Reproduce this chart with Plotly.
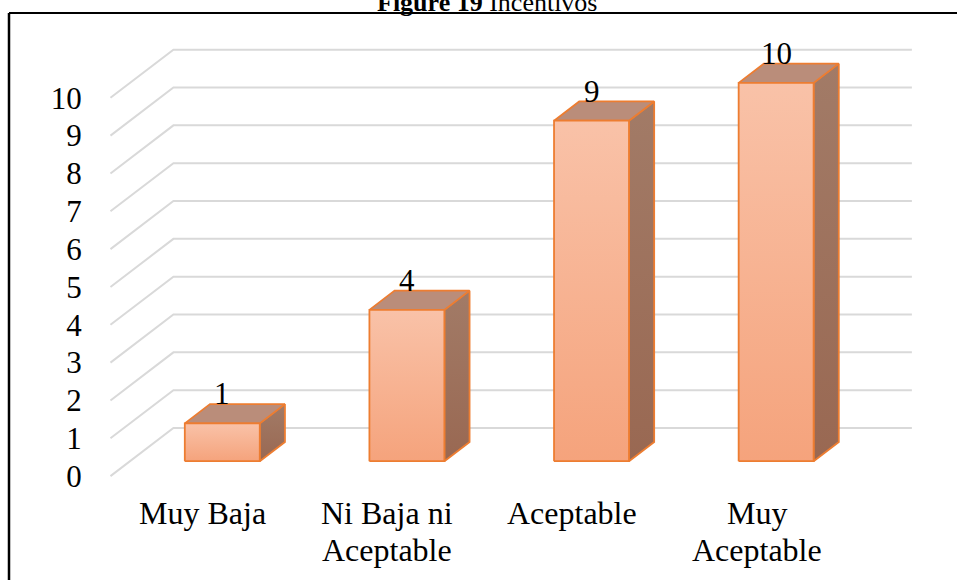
import plotly.graph_objects as go

# ---- data ----
categories = ["Muy Baja", "Ni Baja ni\nAceptable", "Aceptable", "Muy\nAceptable"]
values = [1, 4, 9, 10]
y_ticks = list(range(0, 11))
title_bold = "Figure 19"
title_rest = "Incentivos"

# ---- oblique 3-D projection (axis units) ----
DEPTH_DX = 0.341      # shift of a point moved from the front plane to the back wall (x units)
DEPTH_DY = 1.27       # same shift in value units
BAR_FRONT = 0.31      # depth of the bar front face (0 = front, 1 = back wall)
BAR_BACK = 0.71       # depth of the bar back face
BAR_HALF = 0.203      # half width of a bar
FLOOR_LEFT = -0.5
FLOOR_RIGHT = 3.5

X_RANGE = [-0.6, 3.95]
Y_RANGE = [-0.5, 11.5]
W, H = 957, 580
ML, MR, MT, MB = 92, 25, 41, 85
PW, PH = W - ML - MR, H - MT - MB

FONT = "Liberation Serif, Times New Roman, serif"
EDGE = "#ed7d31"
CAT_FIRST_LINE_PX = 513   # vertical centre of the first category-label line
CAT_LINE_STEP_PX = 37     # line spacing of wrapped category labels


def proj(x, y, d):
    return x + d * DEPTH_DX, y + d * DEPTH_DY


def px_to_paper(px, py):
    return (px - ML) / PW, (H - MB - py) / PH


fig = go.Figure()

# back wall gridlines with their slanted floor/side continuation
gx, gy = [], []
for v in y_ticks:
    a = proj(FLOOR_LEFT, v, 0)
    b = proj(FLOOR_LEFT, v, 1)
    c = proj(FLOOR_RIGHT, v, 1)
    gx += [a[0], b[0], c[0], None]
    gy += [a[1], b[1], c[1], None]
fig.add_trace(go.Scatter(x=gx, y=gy, mode="lines",
                         line=dict(color="#d9d9d9", width=2),
                         hoverinfo="skip", showlegend=False))


def face(pts, **kw):
    xs = [p[0] for p in pts] + [pts[0][0]]
    ys = [p[1] for p in pts] + [pts[0][1]]
    fig.add_trace(go.Scatter(x=xs, y=ys, mode="lines", fill="toself",
                             line=dict(color=EDGE, width=1.8),
                             hoverinfo="skip", showlegend=False, **kw))


for i, val in enumerate(values):
    x0, x1 = i - BAR_HALF, i + BAR_HALF
    # side face
    face([proj(x1, 0, BAR_FRONT), proj(x1, 0, BAR_BACK),
          proj(x1, val, BAR_BACK), proj(x1, val, BAR_FRONT)],
         fillgradient=dict(type="vertical",
                           colorscale=[[0, "#996852"], [1, "#a27b67"]]))
    # top face
    face([proj(x0, val, BAR_FRONT), proj(x1, val, BAR_FRONT),
          proj(x1, val, BAR_BACK), proj(x0, val, BAR_BACK)],
         fillcolor="#ba8d7a")
    # front face
    face([proj(x0, 0, BAR_FRONT), proj(x1, 0, BAR_FRONT),
          proj(x1, val, BAR_FRONT), proj(x0, val, BAR_FRONT)],
         fillgradient=dict(type="vertical",
                           colorscale=[[0, "#f5a37c"], [1, "#f9c2a8"]]))

annotations = []
# value labels above each column
for i, val in enumerate(values):
    lx, ly = proj(i, val, BAR_FRONT)
    annotations.append(dict(x=lx, y=ly, xref="x", yref="y", text=str(val),
                            showarrow=False, yanchor="bottom", yshift=10,
                            font=dict(family=FONT, size=31, color="black")))

# category labels on the front plane, one annotation per line
for i, cat in enumerate(categories):
    for k, line in enumerate(cat.split("\n")):
        _, py = px_to_paper(0, CAT_FIRST_LINE_PX + k * CAT_LINE_STEP_PX)
        annotations.append(dict(x=i, y=py, xref="x", yref="paper", text=line,
                                showarrow=False, xanchor="center", yanchor="middle",
                                font=dict(family=FONT, size=32, color="black")))

tx, ty = px_to_paper(487.5, 2)
annotations.append(dict(x=tx, y=ty, xref="paper", yref="paper",
                        text=f"<b>{title_bold}</b> {title_rest}",
                        showarrow=False, xanchor="center", yanchor="middle",
                        font=dict(family=FONT, size=26, color="black")))

# chart frame (left and top edges)
bx0, by0 = px_to_paper(9, 13)
bx1, by1 = px_to_paper(W + 5, H + 5)
shapes = [
    dict(type="line", xref="paper", yref="paper", x0=bx0, y0=by0, x1=bx0, y1=by1,
         line=dict(color="black", width=2.5)),
    dict(type="line", xref="paper", yref="paper", x0=bx0, y0=by0, x1=bx1, y1=by0,
         line=dict(color="black", width=2)),
]

fig.update_layout(
    width=W, height=H,
    margin=dict(l=ML, r=MR, t=MT, b=MB, pad=0, autoexpand=False),
    paper_bgcolor="white", plot_bgcolor="white",
    showlegend=False,
    annotations=annotations,
    shapes=shapes,
    xaxis=dict(range=X_RANGE, showticklabels=False, showgrid=False,
               zeroline=False, showline=False, ticks="", fixedrange=True,
               automargin=False),
    yaxis=dict(range=Y_RANGE, tickvals=y_ticks, ticktext=[str(t) for t in y_ticks],
               showgrid=False, zeroline=False, showline=False,
               ticks="outside", ticklen=3, tickcolor="rgba(0,0,0,0)",
               fixedrange=True, automargin=False,
               tickfont=dict(family=FONT, size=31, color="black")),
)

fig.write_html("out.html")
